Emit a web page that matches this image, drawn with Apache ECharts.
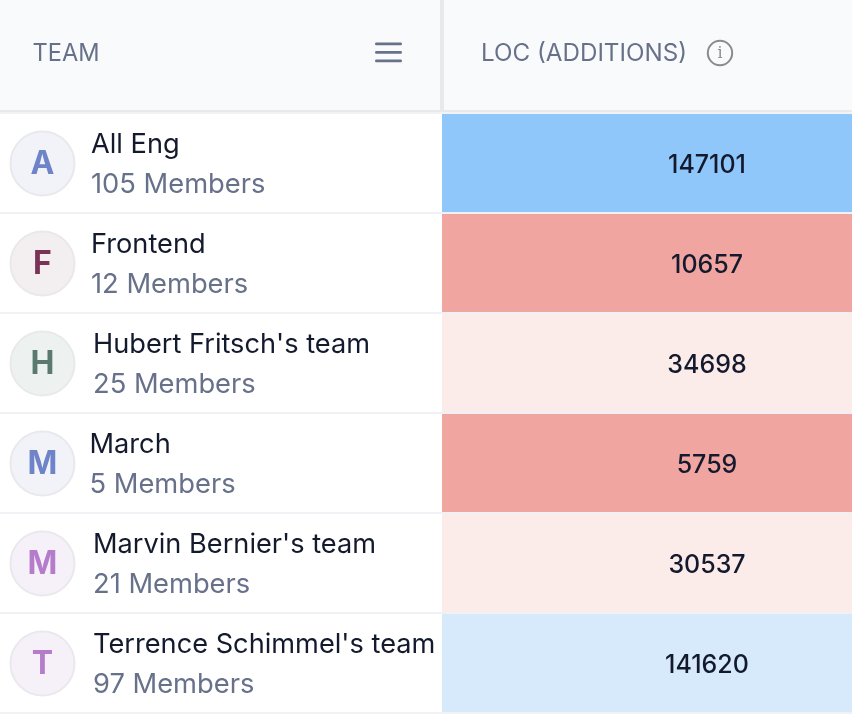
<!DOCTYPE html>
<html><head><meta charset="utf-8">
<style>html,body{margin:0;padding:0;background:#fff}#c{width:852px;height:714px}</style>
<script src="https://cdn.jsdelivr.net/npm/echarts@6/dist/echarts.min.js"></script>
</head><body><div id="c"></div>
<script>
const teams = ["All Eng","Frontend","Hubert Fritsch's team","March","Marvin Bernier's team","Terrence Schimmel's team"];
const members = [105,12,25,5,21,97];
const locAdditions = [147101,10657,34698,5759,30537,141620];
const cellColors = ["#8fc7fa","#f1a5a0","#fbecea","#f1a5a0","#fbecea","#d6eafb"];
const initials = ["A","F","H","M","M","T"];
const avatarInk = ["#6f83c8","#7b3355","#5a7a6f","#6f83c8","#b47ccb","#b47ccb"];
const avatarFill = ["#f1f3f9","#f3eef0","#edf1f0","#f1f3f9","#f6f1f9","#f6f1f9"];
const columnTitles = ["TEAM","LOC (ADDITIONS)"];

const textInset = [91,91,93,89.5,93,93];
const FONT = "Inter, 'Noto Sans', sans-serif";
const SEP = "#f0f0f5";
const chart = echarts.init(document.getElementById('c'), null, {renderer:'canvas'});
const axisOff = {axisLine:{show:false},axisTick:{show:false},axisLabel:{show:false},splitLine:{show:false}};

function renderCell(params, api){
  const i = params.dataIndex;
  const c = api.coord([0, teams[i]]);
  const s = api.size([1,1]);
  const x = c[0]-s[0]/2, y = c[1]-s[1]/2;
  return {type:'group',children:[
    {type:'rect',shape:{x:x,y:y,width:s[0],height:s[1]-2},style:{fill:cellColors[i]}},
    {type:'rect',shape:{x:x,y:y+s[1]-2,width:s[0],height:2},style:{fill:SEP}},
    {type:'text',style:{text:String(locAdditions[i]),x:c[0],y:y+51,align:'center',verticalAlign:'middle',
      font:"500 25px "+FONT,fill:"#141a2e"}}
  ]};
}
function renderTeam(params, api){
  const i = params.dataIndex;
  const c = api.coord([0, teams[i]]);
  const s = api.size([1,1]);
  const x = c[0]-s[0]/2, y = c[1]-s[1]/2;
  return {type:'group',children:[
    {type:'rect',shape:{x:x,y:y+s[1]-2,width:s[0],height:2},style:{fill:SEP}},
    {type:'circle',shape:{cx:42.5,cy:y+49.5,r:32},style:{fill:avatarFill[i],stroke:"#e9e9ec",lineWidth:2}},
    {type:'text',style:{text:initials[i],x:42.5,y:y+50,align:'center',verticalAlign:'middle',
      font:"700 32px "+FONT,fill:avatarInk[i]}},
    {type:'text',style:{text:teams[i],x:textInset[i],y:y+31,align:'left',verticalAlign:'middle',
      font:"400 27.2px "+FONT,fill:"#141a2e"}},
    {type:'text',style:{text:members[i]+" Members",x:textInset[i],y:y+71,align:'left',verticalAlign:'middle',
      font:"400 27.3px "+FONT,fill:"#67718a"}}
  ]};
}
const headerText = {fill:"#67718a",verticalAlign:'middle'};
chart.setOption({
  animation:false,
  backgroundColor:"#ffffff",
  grid:[
    {left:0,top:114,width:442,height:600,outerBoundsMode:'none'},
    {left:442,top:114,width:530,height:600,outerBoundsMode:'none'}
  ],
  xAxis:[
    Object.assign({type:'category',gridIndex:0,data:["team"]},axisOff),
    Object.assign({type:'category',gridIndex:1,data:["loc"]},axisOff)
  ],
  yAxis:[
    Object.assign({type:'category',gridIndex:0,data:teams,inverse:true},axisOff),
    Object.assign({type:'category',gridIndex:1,data:teams,inverse:true},axisOff)
  ],
  series:[
    {type:'custom',xAxisIndex:0,yAxisIndex:0,renderItem:renderTeam,silent:true,clip:false,
      data:teams.map(t=>[0,t])},
    {type:'custom',xAxisIndex:1,yAxisIndex:1,renderItem:renderCell,silent:true,
      data:teams.map((t,i)=>[0,t,locAdditions[i]])}
  ],
  graphic:[
    {type:'rect',shape:{x:0,y:0,width:852,height:110},style:{fill:"#f9fafc"},silent:true},
    {type:'rect',shape:{x:0,y:110,width:852,height:2},style:{fill:"#e9e9ea"},silent:true},
    {type:'rect',shape:{x:0,y:112,width:852,height:2},style:{fill:"#f3f3f5"},silent:true},
    {type:'rect',shape:{x:440,y:0,width:4,height:110},style:{fill:"#e9e9ea"},silent:true},
    {type:'text',x:32.5,y:54,silent:true,style:Object.assign({text:columnTitles[0],font:"400 23.6px "+FONT},headerText)},
    {type:'text',x:481,y:54,silent:true,style:Object.assign({text:columnTitles[1],font:"400 24.2px "+FONT},headerText)},
    {type:'rect',shape:{x:375,y:42.5,width:27,height:2.8,r:1.4},style:{fill:"#67718a"},silent:true},
    {type:'rect',shape:{x:375,y:51,width:27,height:2.8,r:1.4},style:{fill:"#67718a"},silent:true},
    {type:'rect',shape:{x:375,y:59.5,width:27,height:2.8,r:1.4},style:{fill:"#67718a"},silent:true},
    {type:'circle',shape:{cx:720,cy:53,r:12.2},style:{fill:"none",stroke:"#8b8b8b",lineWidth:2},silent:true},
    {type:'text',x:720,y:53.5,silent:true,style:{text:"i",align:'center',verticalAlign:'middle',font:"400 16px 'DejaVu Serif', serif",fill:"#8b8b8b"}}
  ]
});
</script></body></html>
